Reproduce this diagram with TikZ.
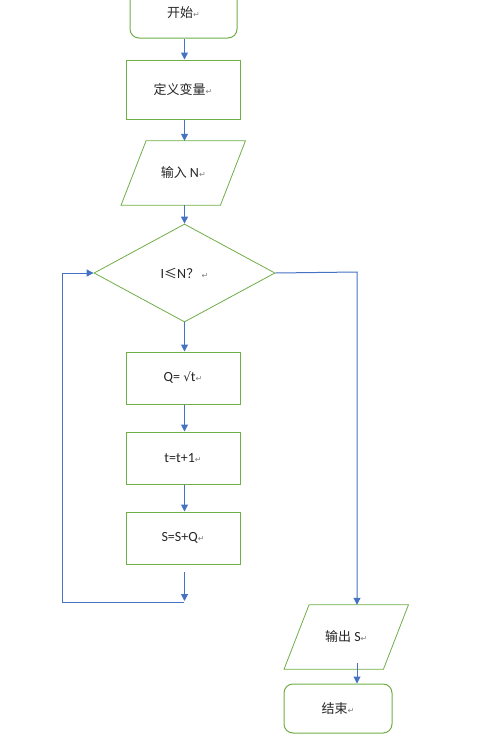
\documentclass[tikz,border=0pt]{standalone}
\usepackage{fontspec}
\setmainfont{Carlito}
\newfontfamily\cjk{Noto Sans CJK SC}
\newfontfamily\dvs{DejaVu Sans}
\usetikzlibrary{shapes.geometric,arrows.meta,calc}
\definecolor{grn}{HTML}{70AD47}
\definecolor{blu}{HTML}{4472C4}
\newcommand{\retmk}{{\dvs\color{gray}\fontsize{8}{8}\selectfont ↵}}
\begin{document}
\begin{tikzpicture}[x=1pt,y=-1pt,
  lbl/.style={font=\fontsize{14}{16}\selectfont,text=black!85},
  box/.style={lbl,draw=grn,line width=1pt,minimum width=114pt,minimum height=52pt,inner sep=0pt},
  term/.style={box,rounded corners=9pt},
  io/.style={lbl,minimum width=124pt,minimum height=64pt,inner sep=0pt},
  dec/.style={lbl,diamond,draw=grn,line width=0.8pt,minimum width=181pt,minimum height=98pt,inner sep=0pt},
  arr/.style={draw=blu,line width=1pt,-{Triangle[length=7pt,width=7pt]}}]
\useasboundingbox (0,0) rectangle (492,742);
\clip (0,0) rectangle (492,742);
\node[term,minimum width=107pt,minimum height=50pt] (start) at (183.5,13) {{\cjk\fontsize{13}{15}\selectfont 开始}\retmk};
\node[box,minimum height=59pt] (def) at (183,89.5) {{\cjk\fontsize{13}{15}\selectfont 定义变量}\retmk};
\node[io] (inp) at (183.25,173) {{\cjk\fontsize{13}{15}\selectfont 输入} N\retmk};
\draw[draw=grn,line width=0.8pt] ($(inp.north west)+(25,0)$) -- (inp.north east) -- ($(inp.south east)-(25,0)$) -- (inp.south west) -- cycle;
\node[dec] (dia) at (184.5,273) {I{\cjk\fontsize{13}{15}\selectfont ≤}N{\cjk\fontsize{13}{15}\selectfont ？}\,\retmk};
\node[box] (q) at (183,378) {Q= {\dvs\fontsize{12}{14}\selectfont √}t\retmk};
\node[box] (t) at (183,458) {t=t+1\retmk};
\node[box] (s) at (183,538) {S=S+Q\retmk};
\node[io] (out) at (346.25,637) {{\cjk\fontsize{13}{15}\selectfont 输出} S\retmk};
\draw[draw=grn,line width=0.8pt] ($(out.north west)+(25,0)$) -- (out.north east) -- ($(out.south east)-(25,0)$) -- (out.south west) -- cycle;
\node[term,minimum width=108pt,minimum height=49pt] (end) at (338,708.5) {{\cjk\fontsize{13}{15}\selectfont 结束}\retmk};
% main column arrows
\draw[arr] (start.south -| dia) -- (def.north -| dia);
\draw[arr] (def.south -| dia) -- (inp.north -| dia);
\draw[arr] (inp.south -| dia) -- (dia.north);
\draw[arr] (dia.south) -- (q.north -| dia);
\draw[arr] (q.south -| dia) -- (t.north -| dia);
\draw[arr] (t.south -| dia) -- (s.north -| dia);
% loop back
\coordinate (lpa) at (184.5,572);
\coordinate (lpb) at (184.5,601);
\coordinate (lpc) at (62,602);
\draw[arr] (lpa) -- (lpb);
\draw[arr] (184,602) -- (lpc) |- (dia.west);
% exit branch
\coordinate (rt) at (357,272);
\draw[arr] (dia.east) -- (rt) -- (rt |- out.north);
\draw[arr] ($(rt |- out.south)+(0,-6)$) -- (rt |- end.north);
\end{tikzpicture}
\end{document}
